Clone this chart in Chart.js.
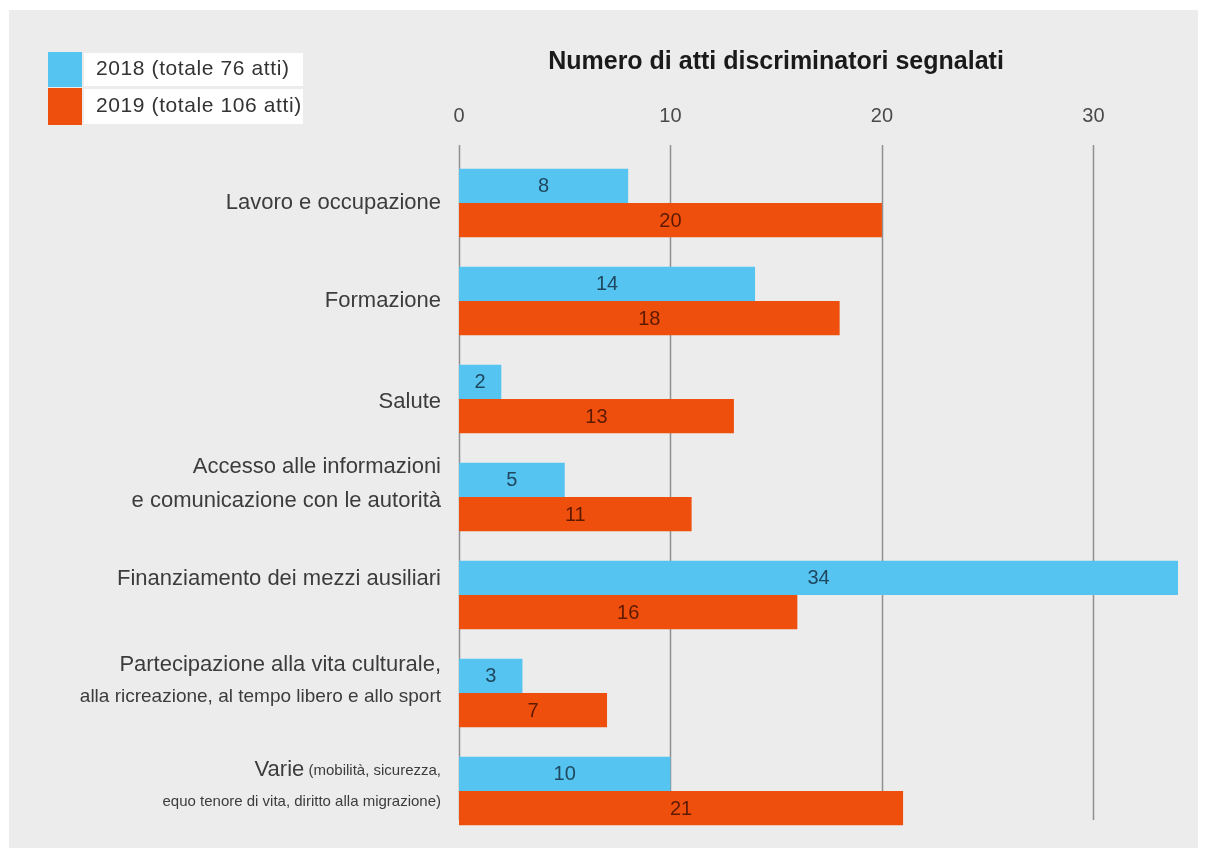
<!DOCTYPE html>
<html>
<head>
<meta charset="utf-8">
<script src="https://cdn.jsdelivr.net/npm/chart.js@4.4.1/dist/chart.umd.min.js"></script>
<style>
    html, body { margin: 0; padding: 0; background: #fff; }
    canvas { display: block; }
</style>
</head>
<body>
<canvas id="attiChart" width="1206" height="858"></canvas>
<script>
// Dati
const categorie = [
    ['Lavoro e occupazione'],
    ['Formazione'],
    ['Salute'],
    ['Accesso alle informazioni', 'e comunicazione con le autorità'],
    ['Finanziamento dei mezzi ausiliari'],
    ['Partecipazione alla vita culturale,', 'alla ricreazione, al tempo libero e allo sport'],
    ['Varie (mobilità, sicurezza,', 'equo tenore di vita, diritto alla migrazione)']
];
const valori2018 = [8, 14, 2, 5, 34, 3, 10];
const valori2019 = [20, 18, 13, 11, 16, 7, 21];
const nomiSerie = ['2018 (totale 76 atti)', '2019 (totale 106 atti)'];
const tickAsse = [0, 10, 20, 30];
const titolo = 'Numero di atti discriminatori segnalati';

const FONT = "'Liberation Sans', Arial, sans-serif";
const coloriBarre = ['#55c4f0', '#ef4f0c'];
const coloriValori = ['#1f4860', '#5e1a00'];

// posizione verticale delle righe di ogni etichetta (rispetto al centro del gruppo)
const righeEtichette = [
    [{ dy: 0, size: 22 }],
    [{ dy: 0, size: 22 }],
    [{ dy: 3, size: 22 }],
    [{ dy: -30, size: 22 }, { dy: 4, size: 22 }],
    [{ dy: -16, size: 22 }],
    [{ dy: -28, size: 22 }, { dy: 4, size: 19 }],
    [{ dy: -21, size: 22, resto: 15 }, { dy: 11, size: 15 }]
];

// sfondo grigio con bordo bianco
const sfondo = {
    id: 'sfondo',
    beforeDraw(chart) {
        const ctx = chart.ctx;
        ctx.save();
        ctx.fillStyle = '#fff';
        ctx.fillRect(0, 0, chart.width, chart.height);
        ctx.fillStyle = '#ececec';
        ctx.fillRect(9, 10, 1189, 838);
        ctx.restore();
    }
};

// linee verticali della griglia (non arrivano fino in fondo)
const griglia = {
    id: 'griglia',
    beforeDatasetsDraw(chart) {
        const ctx = chart.ctx;
        const area = chart.chartArea;
        const x = chart.scales.x;
        ctx.save();
        ctx.strokeStyle = '#8f8f8f';
        ctx.lineWidth = 1.5;
        tickAsse.forEach(v => {
            const px = Math.round(x.getPixelForValue(v)) + 0.5;
            ctx.beginPath();
            ctx.moveTo(px, area.top - 9);
            ctx.lineTo(px, area.bottom - 20);
            ctx.stroke();
        });
        ctx.restore();
    }
};

// numeri al centro delle barre
const valori = {
    id: 'valori',
    afterDatasetsDraw(chart) {
        const ctx = chart.ctx;
        ctx.save();
        ctx.font = '20px ' + FONT;
        ctx.textAlign = 'center';
        ctx.textBaseline = 'middle';
        chart.data.datasets.forEach((ds, i) => {
            ctx.fillStyle = coloriValori[i];
            chart.getDatasetMeta(i).data.forEach((bar, j) => {
                ctx.fillText(ds.data[j], (bar.x + bar.base) / 2, bar.y + 1);
            });
        });
        ctx.restore();
    }
};

// etichette delle categorie, titolo e legenda
const testi = {
    id: 'testi',
    afterDraw(chart) {
        const ctx = chart.ctx;
        const y = chart.scales.y;
        const destra = 441;
        ctx.save();
        ctx.fillStyle = '#3c3c3c';
        ctx.textBaseline = 'middle';
        categorie.forEach((righe, i) => {
            const centro = y.getPixelForValue(i);
            righe.forEach((testo, r) => {
                const st = righeEtichette[i][r];
                const py = centro + st.dy;
                if (st.resto) {
                    const primo = testo.split(' ')[0];
                    const altro = testo.slice(primo.length);
                    ctx.font = st.resto + 'px ' + FONT;
                    const w2 = ctx.measureText(altro).width;
                    ctx.font = st.size + 'px ' + FONT;
                    const w1 = ctx.measureText(primo).width;
                    ctx.textAlign = 'left';
                    ctx.fillText(primo, destra - w1 - w2, py);
                    ctx.font = st.resto + 'px ' + FONT;
                    ctx.fillText(altro, destra - w2, py + 1);
                } else {
                    ctx.font = st.size + 'px ' + FONT;
                    ctx.textAlign = 'right';
                    ctx.fillText(testo, destra, py);
                }
            });
        });

        // titolo
        ctx.fillStyle = '#1a1a1a';
        ctx.font = 'bold 25px ' + FONT;
        ctx.textAlign = 'center';
        ctx.fillText(titolo, 776, 62);

        // legenda
        const righeLegenda = [[52, 35], [88, 37]];
        righeLegenda.forEach(([top, h], i) => {
            ctx.fillStyle = '#fff';
            ctx.fillRect(84, top + 1, 219, h - 2);
            ctx.fillStyle = coloriBarre[i];
            ctx.fillRect(48, top, 34, h);
            ctx.fillStyle = '#333';
            ctx.font = '21px ' + FONT;
            ctx.letterSpacing = '0.6px';
            ctx.textAlign = 'left';
            ctx.fillText(nomiSerie[i], 96, top + h / 2);
        });
        ctx.restore();
    }
};

const ctx = document.getElementById('attiChart').getContext('2d');
const attiChart = new Chart(ctx, {
    type: 'bar',
    data: {
        labels: categorie,
        datasets: [{
            label: nomiSerie[0],
            data: valori2018,
            backgroundColor: coloriBarre[0]
        }, {
            label: nomiSerie[1],
            data: valori2019,
            backgroundColor: coloriBarre[1]
        }]
    },
    options: {
        responsive: false,
        animation: false,
        indexAxis: 'y',
        categoryPercentage: 0.7,
        barPercentage: 1.0,
        layout: {
            padding: { left: 459, right: 28, top: 78, bottom: 18 }
        },
        scales: {
            x: {
                position: 'top',
                min: 0,
                max: 34,
                afterBuildTicks: axis => {
                    axis.ticks = tickAsse.map(v => ({ value: v }));
                },
                grid: { display: false, drawTicks: false },
                border: { display: false },
                ticks: {
                    padding: 26,
                    color: '#4a4a4a',
                    font: { family: FONT, size: 20 }
                }
            },
            y: {
                display: false
            }
        },
        plugins: {
            legend: { display: false },
            tooltip: { enabled: false }
        }
    },
    plugins: [sfondo, griglia, valori, testi]
});
</script>
</body>
</html>
